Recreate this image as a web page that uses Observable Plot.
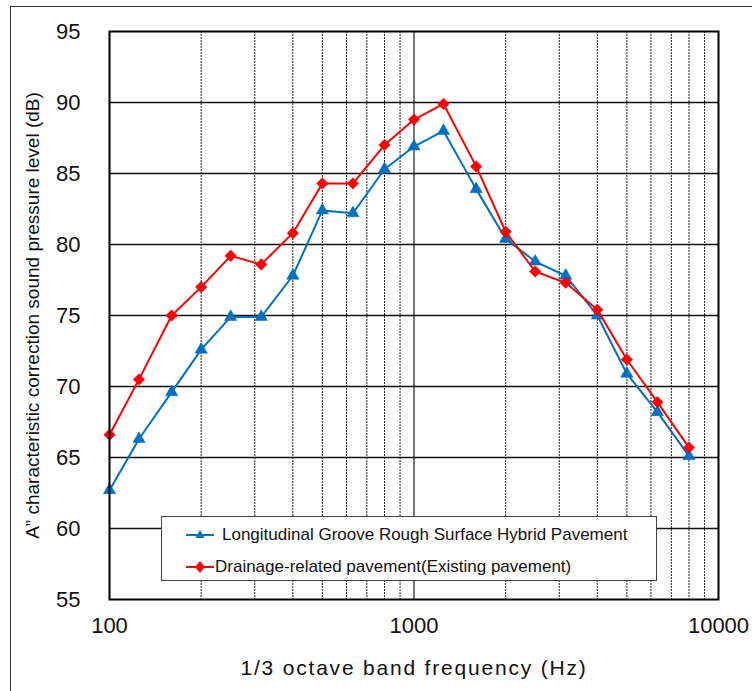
<!DOCTYPE html>
<html>
<head>
<meta charset="utf-8">
<script src="https://cdn.jsdelivr.net/npm/d3@7"></script>
<script src="https://cdn.jsdelivr.net/npm/@observablehq/plot@0.6"></script>
<style>
  html, body { margin: 0; padding: 0; background: #fff; }
  #wrap { position: relative; width: 752px; height: 691px; overflow: hidden; }
  #outer { position: absolute; left: 10px; top: 6px; width: 800px; height: 800px; border-left: 1.5px solid #333; border-top: 1.5px solid #333; pointer-events: none; }
  #legend { position: absolute; left: 161px; top: 516px; width: 494px; height: 63px; border: 1.2px solid #444; background: #fff;
    font-family: "Liberation Sans", Arial, sans-serif; font-size: 17px; color: #111; }
  .row { position: absolute; left: 0; height: 24px; display: flex; align-items: center; white-space: nowrap; }
  .row svg { margin-left: 24px; }
  svg text { fill: #111; }
  g[aria-label="x-axis label"] text { font-size: 21px; letter-spacing: 1.8px; }
  g[aria-label="y-axis label"] text { font-size: 19px; }
</style>
</head>
<body>
<div id="wrap">
  <div id="chart"></div>
  <div id="outer"></div>
  <div id="legend"></div>
</div>
<script>
// 1/3 octave band centre frequencies (Hz)
const freqs = [100, 125, 160, 200, 250, 315, 400, 500, 630, 800, 1000, 1250, 1600, 2000, 2500, 3150, 4000, 5000, 6300, 8000];
// Longitudinal Groove Rough Surface Hybrid Pavement
const hybrid = [62.7, 66.3, 69.6, 72.6, 74.9, 74.9, 77.8, 82.4, 82.2, 85.3, 86.9, 88.0, 83.9, 80.4, 78.8, 77.8, 75.0, 70.9, 68.2, 65.1];
// Drainage-related pavement (Existing pavement)
const drainage = [66.6, 70.5, 75.0, 77.0, 79.2, 78.6, 80.8, 84.3, 84.3, 87.0, 88.8, 89.9, 85.5, 80.9, 78.1, 77.3, 75.4, 71.9, 68.9, 65.7];

const seriesNames = ["Longitudinal Groove Rough Surface Hybrid Pavement", "Drainage-related pavement(Existing pavement)"];
const seriesColors = ["#0070C0", "#FF0000"];
const yTicks = [55, 60, 65, 70, 75, 80, 85, 90, 95];
const xTicks = [100, 1000, 10000];
const minorGrid = [200, 300, 400, 500, 600, 700, 800, 900, 2000, 3000, 4000, 5000, 6000, 7000, 8000, 9000];
const xLabel = "1/3 octave band frequency (Hz)";
const yLabel = "A\u201D characteristic correction sound pressure level (dB)";

const dataHybrid = freqs.map((f, i) => ({f, v: hybrid[i]}));
const dataDrain = freqs.map((f, i) => ({f, v: drainage[i]}));

const chart = Plot.plot({
  width: 752,
  height: 691,
  marginLeft: 109,
  marginRight: 34,
  marginTop: 31,
  marginBottom: 92,
  style: {fontFamily: "'Liberation Sans', Arial, sans-serif", background: "transparent", overflow: "visible"},
  x: {type: "log", domain: [100, 10000]},
  y: {domain: [55, 95]},
  marks: [
    Plot.ruleX(minorGrid, {stroke: "#222", strokeWidth: 1, strokeDasharray: "2,1"}),
    Plot.ruleX([1000], {stroke: "#555", strokeWidth: 1.6}),
    Plot.ruleY(yTicks.slice(1, -1), {stroke: "#111", strokeWidth: 1.3}),
    Plot.line(dataHybrid, {x: "f", y: "v", stroke: seriesColors[0], strokeWidth: 2}),
    Plot.dot(dataHybrid, {x: "f", y: "v", symbol: "triangle", r: 4.6, fill: seriesColors[0], stroke: seriesColors[0], strokeWidth: 0.5}),
    Plot.line(dataDrain, {x: "f", y: "v", stroke: seriesColors[1], strokeWidth: 2}),
    Plot.dot(dataDrain, {x: "f", y: "v", symbol: "diamond2", r: 5.2, fill: seriesColors[1], stroke: seriesColors[1], strokeWidth: 0.5}),
    Plot.frame({stroke: "#000", strokeWidth: 2}),
    Plot.axisX({ticks: xTicks, tickFormat: d => String(d), tickSize: 0, tickPadding: 18, fontSize: 22,
      label: xLabel, labelAnchor: "center", labelOffset: 75, labelArrow: "none"}),
    Plot.axisY({ticks: yTicks, tickFormat: d => String(d), tickSize: 0, tickPadding: 29, fontSize: 22,
      label: yLabel, labelAnchor: "center", labelOffset: 84, labelArrow: "none"})
  ]
});
document.getElementById("chart").appendChild(chart);

// Legend
const legend = document.getElementById("legend");
const rowsTop = [6, 38];
const textGap = [8, 1];
const symbols = ["triangle", "diamond"];
seriesNames.forEach((name, i) => {
  const row = document.createElement("div");
  row.className = "row";
  row.style.top = rowsTop[i] + "px";
  const c = seriesColors[i];
  const marker = symbols[i] === "triangle"
    ? `<path d="M14,7 L18.5,15 L9.5,15 Z" fill="${c}"/>`
    : `<path d="M14,6 L19,12 L14,18 L9,12 Z" fill="${c}"/>`;
  row.innerHTML = `<svg width="28" height="24" viewBox="0 0 28 24"><line x1="0" x2="28" y1="12" y2="12" stroke="${c}" stroke-width="2"/>${marker}</svg><span style="margin-left:${textGap[i]}px">${name}</span>`;
  legend.appendChild(row);
});
</script>
</body>
</html>
